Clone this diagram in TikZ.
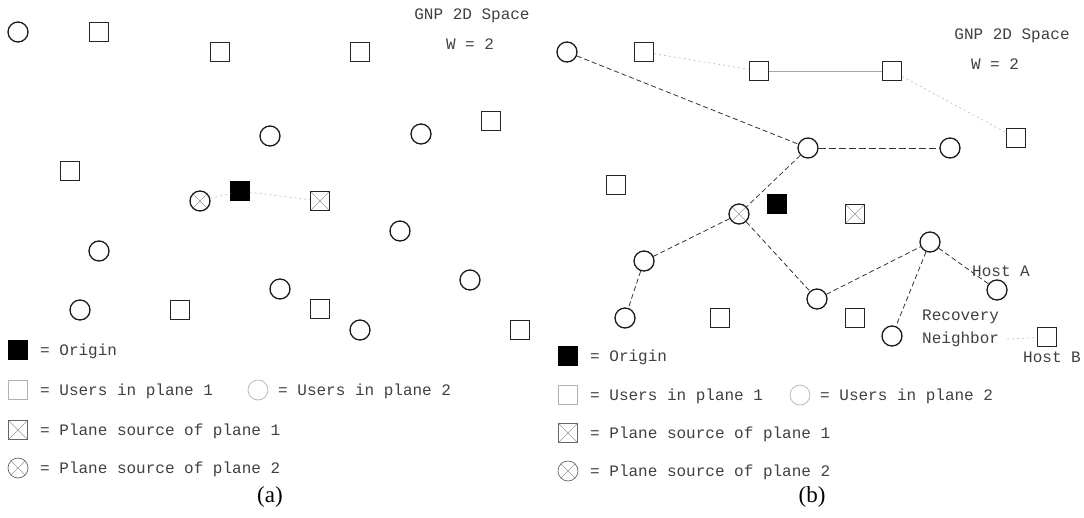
\documentclass[tikz,border=0pt]{standalone}
\usepackage{fontspec}
\setmainfont{Liberation Serif}
\newfontfamily\cour{Liberation Mono}
\begin{document}
\begin{tikzpicture}[x=1pt,y=-1pt,
  usrsq/.style={draw=black!85,line width=1.3pt,rectangle,minimum size=19pt,inner sep=0pt},
  usrci/.style={draw=black!90,line width=1.3pt,circle,minimum size=20pt,inner sep=0pt},
  orig/.style={draw=black,fill=black,rectangle,minimum size=19pt,inner sep=0pt},
  srcsq/.style={usrsq,path picture={\draw[black!40,line width=0.6pt] (path picture bounding box.south west)--(path picture bounding box.north east) (path picture bounding box.north west)--(path picture bounding box.south east);}},
  srcci/.style={usrci,path picture={\draw[black!40,line width=0.6pt] (path picture bounding box.south west)--(path picture bounding box.north east) (path picture bounding box.north west)--(path picture bounding box.south east);}},
  lgsq/.style={usrsq,draw=black!30,line width=0.7pt},
  lgci/.style={usrci,draw=black!30,line width=0.7pt},
  lgsrcsq/.style={srcsq,draw=black!60,line width=0.7pt},
  lgsrcci/.style={srcci,draw=black!60,line width=0.7pt},
  txt/.style={font=\cour\fontsize{16}{18}\selectfont,text=black!75,inner sep=0pt},
  lgtxt/.style={txt,anchor=west},
  captxt/.style={font=\fontsize{23}{25}\selectfont,inner sep=0pt},
  tree/.style={draw=black!80,line width=0.8pt,dash pattern=on 5pt off 3pt},
  faint/.style={draw=black!22,line width=0.8pt,dash pattern=on 2pt off 3pt},
  faintsolid/.style={draw=black!35,line width=0.6pt}]
\useasboundingbox (0,0) rectangle (1084,517);
% ---------------- panel (a)
\node[txt] (ta1) at (472,16) {GNP 2D Space};
\node[txt] (ta2) at (470,44) {W = 2};
\node[usrci] (a1) at (18,32) {};
\node[usrsq] (a2) at (99,32) {};
\node[usrsq] (a3) at (220,52) {};
\node[usrsq] (a4) at (360,52) {};
\node[usrci] (a5) at (270,136) {};
\node[usrci] (a6) at (421,134) {};
\node[usrsq] (a7) at (491,121) {};
\node[usrsq] (a8) at (70,171) {};
\node[srcci] (a9) at (200,201) {};
\node[orig] (a10) at (240,191) {};
\node[srcsq] (a11) at (320,201) {};
\node[usrci] (a12) at (400,231) {};
\node[usrci] (a13) at (99,251) {};
\node[usrci] (a14) at (470,280) {};
\node[usrci] (a15) at (280,289) {};
\node[usrci] (a16) at (80,310) {};
\node[usrsq] (a17) at (180,310) {};
\node[usrsq] (a18) at (320,309) {};
\node[usrci] (a19) at (360,330) {};
\node[usrsq] (a20) at (520,330) {};
\draw[faint] (a9) -- (a10);
\draw[faint] (a10) -- (a11);
% legend (a)
\node[orig] (la1) at (18,350) {};
\node[lgtxt] (lta1) at (40,351) {= Origin};
\node[lgsq] (la2) at (18,390) {};
\node[lgtxt] (lta2) at (40,391) {= Users in plane 1};
\node[lgci] (la3) at (258,390) {};
\node[lgtxt] (lta3) at (278,391) {= Users in plane 2};
\node[lgsrcsq] (la4) at (18,430) {};
\node[lgtxt] (lta4) at (40,431) {= Plane source of plane 1};
\node[lgsrcci] (la5) at (18,468) {};
\node[lgtxt] (lta5) at (40,469) {= Plane source of plane 2};
\node[captxt] (capa) at (270,497) {(a)};
% ---------------- panel (b)
\node[txt] (tb1) at (1012,36) {GNP 2D Space};
\node[txt] (tb2) at (995,64) {W = 2};
\node[usrci] (b1) at (567,52) {};
\node[usrsq] (b2) at (644,52) {};
\node[usrsq] (b3) at (759,71) {};
\node[usrsq] (b4) at (892,71) {};
\node[usrsq] (b5) at (1016,138) {};
\node[usrci] (b6) at (808,148) {};
\node[usrci] (b7) at (950,148) {};
\node[usrsq] (b8) at (616,185) {};
\node[orig] (b9) at (777,204) {};
\node[srcci] (b10) at (739,214) {};
\node[srcsq] (b11) at (855,214) {};
\node[usrci] (b12) at (930,242) {};
\node[usrci] (b13) at (644,261) {};
\node[usrci] (b14) at (997,290) {};
\node[usrci] (b15) at (817,299) {};
\node[usrci] (b16) at (625,318) {};
\node[usrsq] (b17) at (720,318) {};
\node[usrsq] (b18) at (855,318) {};
\node[usrci] (b19) at (892,336) {};
\node[usrsq] (b20) at (1047,337) {};
\draw[faint] (b2) -- (b3);
\draw[faintsolid] (b3) -- (b4);
\draw[faint] (b4) -- (b5);
\draw[tree] (b1) -- (b6);
\draw[tree,dash pattern=on 7pt off 3pt] (b6) -- (b7);
\draw[tree] (b6) -- (b10);
\draw[tree] (b10) -- (b13);
\draw[tree] (b13) -- (b16);
\draw[tree] (b10) -- (b15);
\draw[tree] (b15) -- (b12);
\draw[tree] (b12) -- (b19);
\draw[tree] (b12) -- (b14);
\node[txt] (hA) at (1001,271) {Host A};
\node[txt,anchor=west] (rec) at (922,317) {Recovery};
\node[txt,anchor=west] (nb) at (922,339) {Neighbor};
\node[txt] (hB) at (1052,357) {Host B};
\coordinate (nbE) at ([xshift=8pt]nb.east);
\draw[faint] (nbE) -- (b20);
% legend (b)
\node[orig] (lb1) at (568,356) {};
\node[lgtxt] (ltb1) at (590,357) {= Origin};
\node[lgsq] (lb2) at (568,395) {};
\node[lgtxt] (ltb2) at (590,396) {= Users in plane 1};
\node[lgci] (lb3) at (800,395) {};
\node[lgtxt] (ltb3) at (820,396) {= Users in plane 2};
\node[lgsrcsq] (lb4) at (568,433) {};
\node[lgtxt] (ltb4) at (590,434) {= Plane source of plane 1};
\node[lgsrcci] (lb5) at (568,471) {};
\node[lgtxt] (ltb5) at (590,472) {= Plane source of plane 2};
\node[captxt] (capb) at (812,497) {(b)};
\end{tikzpicture}
\end{document}
